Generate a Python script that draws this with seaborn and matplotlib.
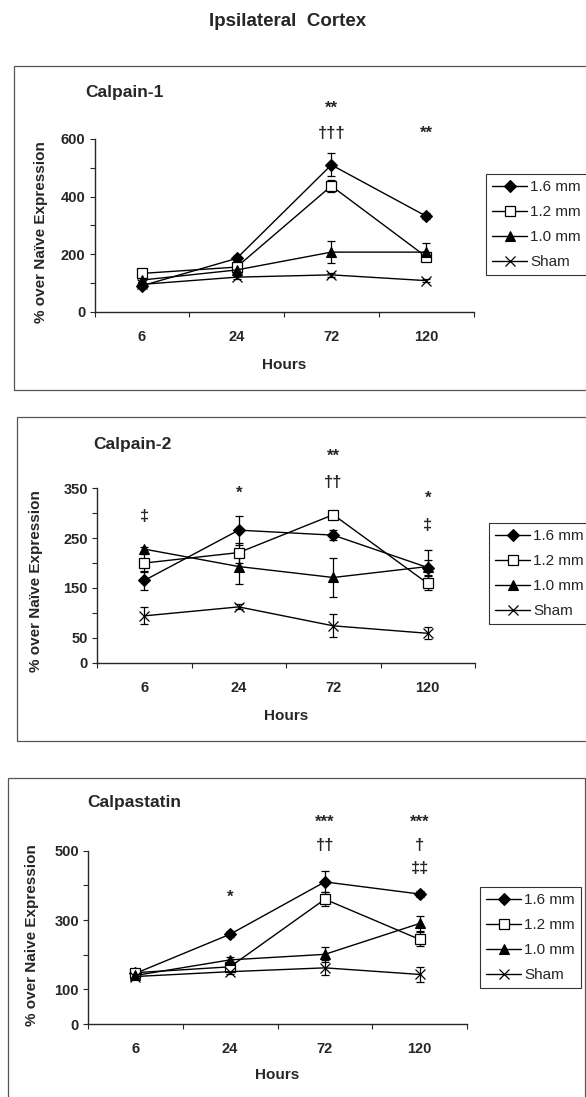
import numpy as np
import pandas as pd
import matplotlib
matplotlib.use("Agg")
import matplotlib.pyplot as plt
from matplotlib.patches import Rectangle
import seaborn as sns

# ---------------- data ----------------
hours = ["6", "24", "72", "120"]
groups = ["1.6 mm", "1.2 mm", "1.0 mm", "Sham"]

# Calpain-1
c1_16 = [90, 185, 510, 332]
c1_12 = [133, 155, 437, 191]
c1_10 = [110, 145, 207, 207]
c1_sh = [95, 120, 128, 108]
c1_16_err = [8, 10, 40, 10]
c1_12_err = [8, 10, 20, 15]
c1_10_err = [8, 10, 37, 30]
c1_sh_err = [5, 5, 8, 5]

# Calpain-2
c2_16 = [165, 266, 256, 191]
c2_12 = [200, 221, 297, 159]
c2_10 = [228, 193, 171, 193]
c2_sh = [94, 112, 74, 59]
c2_16_err = [20, 29, 10, 15]
c2_12_err = [18, 20, 8, 14]
c2_10_err = [5, 36, 39, 33]
c2_sh_err = [17, 5, 23, 12]

# Calpastatin
cs_16 = [146, 259, 410, 375]
cs_12 = [148, 165, 360, 244]
cs_10 = [140, 185, 201, 290]
cs_sh = [137, 151, 162, 143]
cs_16_err = [8, 8, 30, 10]
cs_12_err = [8, 8, 20, 20]
cs_10_err = [8, 8, 22, 22]
cs_sh_err = [8, 8, 22, 22]

# significance annotations: (hour, y value, text)
c1_notes = [("72", 708, "**"), ("72", 620, "\u2020\u2020\u2020"), ("120", 620, "**")]
c2_notes = [("6", 293, "\u2021"), ("24", 341, "*"), ("72", 414, "**"),
            ("72", 361, "\u2020\u2020"), ("120", 331, "*"), ("120", 276, "\u2021")]
cs_notes = [("24", 367, "*"), ("72", 583, "***"), ("72", 516, "\u2020\u2020"),
            ("120", 583, "***"), ("120", 516, "\u2020"), ("120", 450, "\u2021\u2021")]

c1_yticks = [0, 100, 200, 300, 400, 500, 600]
c1_ylabels = ["0", "", "200", "", "400", "", "600"]
c2_yticks = [0, 50, 100, 150, 200, 250, 300, 350]
c2_ylabels = ["0", "50", "", "150", "", "250", "", "350"]
cs_yticks = [0, 100, 200, 300, 400, 500]
cs_ylabels = ["0", "100", "", "300", "", "500"]

# ---------------- style ----------------
sns.set_style("ticks")
plt.rcParams["font.family"] = ["Liberation Sans", "DejaVu Sans"]
plt.rcParams["axes.linewidth"] = 1.0

W, H = 586, 1097
fig = plt.figure(figsize=(W / 100, H / 100), dpi=100)

marker_kw = {
    "1.6 mm": dict(marker="D", markersize=6.0, markerfacecolor="black", markeredgecolor="black", markeredgewidth=0.8),
    "1.2 mm": dict(marker="s", markersize=6.5, markerfacecolor="white", markeredgecolor="black", markeredgewidth=0.9),
    "1.0 mm": dict(marker="^", markersize=6.5, markerfacecolor="black", markeredgecolor="black", markeredgewidth=0.8),
    "Sham": dict(marker="x", markersize=7.5, markerfacecolor="black", markeredgecolor="black", markeredgewidth=0.9),
}


def make_df(vals, errs):
    rows = []
    for g, v, e in zip(groups, vals, errs):
        for h, vv, ee in zip(hours, v, e):
            rows.append({"Hours": h, "group": g, "value": vv, "err": ee})
    df = pd.DataFrame(rows)
    df["Hours"] = pd.Categorical(df["Hours"], categories=hours, ordered=True)
    return df


panels = [
    dict(df=make_df([c1_16, c1_12, c1_10, c1_sh], [c1_16_err, c1_12_err, c1_10_err, c1_sh_err]),
         ax_px=(94.5, 473.5, 139.0, 311.7), ylim=600, yt=c1_yticks, yl=c1_ylabels,
         notes=c1_notes, title="Calpain-1", title_px=(85, 92),
         ylabel="% over Na\u00efve Expression", ylab=(-0.123, 0.463), xlab=-0.268,
         leg_px=(486, 174), box=(13.5, 66, 640, 390)),
    dict(df=make_df([c2_16, c2_12, c2_10, c2_sh], [c2_16_err, c2_12_err, c2_10_err, c2_sh_err]),
         ax_px=(97.0, 475.0, 488.3, 662.7), ylim=350, yt=c2_yticks, yl=c2_ylabels,
         notes=c2_notes, title="Calpain-2", title_px=(93, 445),
         ylabel="% over Na\u00efve Expression", ylab=(-0.143, 0.468), xlab=-0.265,
         leg_px=(489, 523), box=(17, 417, 640, 741)),
    dict(df=make_df([cs_16, cs_12, cs_10, cs_sh], [cs_16_err, cs_12_err, cs_10_err, cs_sh_err]),
         ax_px=(88.0, 467.0, 850.7, 1024.0), ylim=500, yt=cs_yticks, yl=cs_ylabels,
         notes=cs_notes, title="Calpastatin", title_px=(87, 802),
         ylabel="% over Naive Expression", ylab=(-0.129, 0.514), xlab=-0.254,
         leg_px=(480, 887), box=(7.5, 778, 585, 1140)),
]

for p in panels:
    # frame around panel
    bx0, by0, bx1, by1 = p["box"]
    fig.add_artist(Rectangle((bx0 / W, 1 - by1 / H), (bx1 - bx0) / W, (by1 - by0) / H,
                             transform=fig.transFigure, fill=False, edgecolor="#555555",
                             linewidth=0.9))
    x0, x1, ytop, ybot = p["ax_px"]
    ax = fig.add_axes([x0 / W, 1 - ybot / H, (x1 - x0) / W, (ybot - ytop) / H])
    df = p["df"]
    handles = []
    for g in groups:
        sub = df[df["group"] == g]
        sns.lineplot(data=sub, x="Hours", y="value", ax=ax, color="black",
                     linewidth=1.0, sort=False, legend=False, **marker_kw[g])
        handles.append(ax.lines[-1])
        ax.errorbar(sub["Hours"].astype(str).tolist(), sub["value"].tolist(),
                    yerr=sub["err"].tolist(), fmt="none", ecolor="black",
                    elinewidth=0.9, capsize=3, capthick=0.9, zorder=1)
    ax.set_xlim(-0.5, 3.5)
    ax.set_ylim(0, p["ylim"])
    sns.despine(ax=ax)
    ax.spines["left"].set_linewidth(1.0)
    ax.spines["bottom"].set_linewidth(1.0)

    # x ticks at category boundaries, labels at centres
    ax.set_xticks([-0.5, 0.5, 1.5, 2.5, 3.5])
    ax.set_xticklabels([])
    ax.set_xticks([0, 1, 2, 3], minor=True)
    ax.set_xticklabels(hours, minor=True, fontsize=10.5, fontweight="bold")
    ax.tick_params(axis="x", which="major", direction="out", length=3.5, width=0.8)
    ax.tick_params(axis="x", which="minor", length=0, pad=13)
    ax.set_yticks(p["yt"])
    ax.set_yticklabels(p["yl"], fontsize=10.5, fontweight="bold")
    ax.tick_params(axis="y", direction="out", length=3.5, width=0.8, pad=3)

    ax.set_xlabel("Hours", fontsize=11, fontweight="bold")
    ax.xaxis.set_label_coords(0.5, p["xlab"])
    ax.set_ylabel(p["ylabel"], fontsize=11, fontweight="bold")
    ax.yaxis.set_label_coords(p["ylab"][0], p["ylab"][1])

    for h, yv, t in p["notes"]:
        ax.text(hours.index(h), yv, t, ha="center", va="center", fontsize=12,
                fontweight="bold", clip_on=False)

    fig.text(p["title_px"][0] / W, 1 - p["title_px"][1] / H, p["title"],
             ha="left", va="center", fontsize=12.5, fontweight="bold")

    lx, ly = p["leg_px"]
    leg = fig.legend(handles, groups, loc="upper left",
                     bbox_to_anchor=(lx / W, 1 - ly / H), bbox_transform=fig.transFigure,
                     frameon=True, fancybox=False, edgecolor="black", borderaxespad=0,
                     fontsize=11, handlelength=2.3, handletextpad=0.2, labelspacing=0.72,
                     borderpad=0.4, numpoints=1)
    leg.get_frame().set_linewidth(0.8)

fig.text(288 / W, 1 - 22 / H, "Ipsilateral  Cortex", ha="center", va="center",
         fontsize=13.5, fontweight="bold")

fig.savefig("out.png", dpi=100)
